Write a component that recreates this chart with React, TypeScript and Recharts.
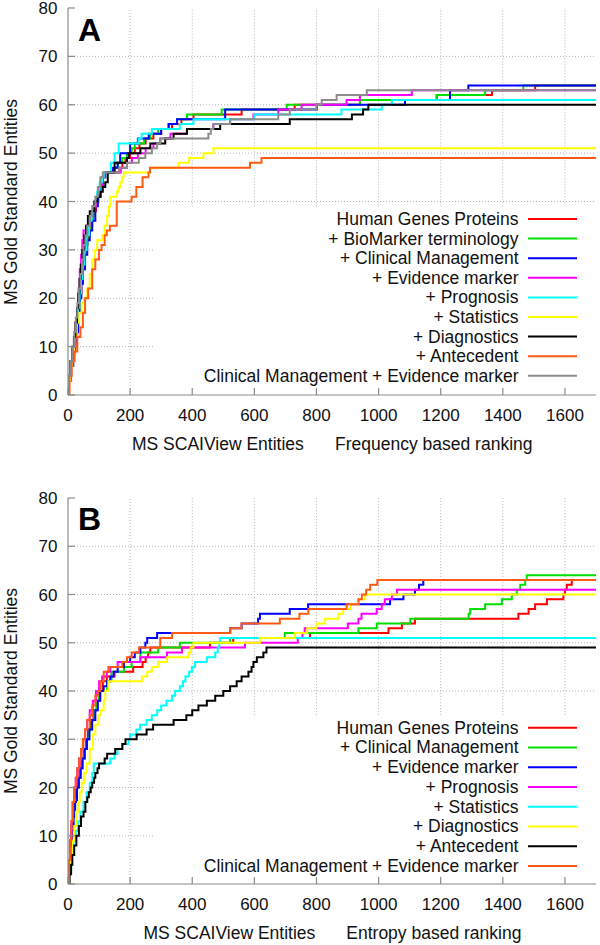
import React from 'react';
import { LineChart, Line, XAxis, YAxis, ReferenceLine } from 'recharts';

type P = [number, number];

const xTicks = [0, 200, 400, 600, 800, 1000, 1200, 1400, 1600];
const yTicks = [0, 10, 20, 30, 40, 50, 60, 70, 80];
const X_MAX = 1700;

// ---------- Panel A : Frequency based ranking ----------
const aHumanGenes: P[] = [[0,0],[3,3],[8,6],[14,8],[20,10],[25,12],[30,15],[35,18],[39,21],[43,24],[48,27],[54,30],[60,32],[66,34],[72,36],[80,38],[90,40],[98,42],[104,44],[110,45],[118,46],[165,47],[175,48],[185,49],[200,50],[215,51],[230,52],[250,53],[275,54],[300,55],[335,56],[365,57],[404,58],[559,59],[730,60],[940,61],[1187,62],[1365,63],[1504,64]];
const aBioMarker: P[] = [[0,0],[3,4],[9,7],[15,9],[21,11],[26,14],[31,17],[36,20],[40,23],[45,26],[51,29],[57,31],[63,33],[70,35],[78,37],[86,39],[94,41],[102,43],[110,45],[118,46],[150,47],[160,48],[175,49],[190,50],[205,51],[215,52],[245,53],[265,54],[290,55],[324,56],[351,57],[383,58],[495,59],[704,60],[940,61],[1187,62],[1343,63],[1466,64]];
const aClinical: P[] = [[0,0],[3,3],[10,6],[17,9],[23,11],[28,13],[33,17],[38,20],[43,23],[48,26],[55,29],[62,32],[70,34],[78,36],[88,39],[96,41],[104,43],[112,45],[120,46],[145,47],[160,48],[168,50],[200,52],[225,53],[260,54],[300,55],[324,56],[351,57],[506,59],[801,60],[1085,61],[1230,63],[1289,64]];
const aEvidence: P[] = [[0,0],[3,4],[8,7],[14,10],[20,12],[25,15],[30,18],[34,22],[38,26],[42,29],[46,32],[50,34],[60,35],[70,37],[80,39],[90,41],[100,43],[110,45],[118,46],[170,47],[190,48],[206,49],[225,50],[250,51],[275,52],[297,53],[330,54],[383,55],[468,56],[522,57],[597,58],[677,59],[752,60],[897,61],[940,62],[1107,63]];
const aPrognosis: P[] = [[0,0],[3,4],[9,7],[15,10],[21,12],[27,15],[32,18],[37,21],[42,24],[47,27],[53,30],[60,33],[68,36],[76,38],[85,40],[94,42],[102,44],[110,45],[115,46],[138,48],[150,50],[163,52],[227,53],[237,54],[270,55],[360,56],[404,57],[600,58],[880,59],[1010,60],[1043,61]];
const aStatistics: P[] = [[0,0],[3,3],[8,6],[14,9],[20,12],[28,15],[36,17],[44,19],[51,20],[62,22],[70,25],[78,28],[86,30],[94,32],[110,33],[118,35],[126,37],[132,39],[136,41],[157,42],[163,43],[168,44],[174,45],[179,46],[265,47],[356,48],[390,49],[436,50],[468,51]];
const aDiagnostics: P[] = [[0,0],[3,4],[8,7],[14,10],[19,12],[24,15],[29,18],[33,21],[37,24],[41,27],[46,30],[52,33],[58,35],[64,37],[70,38],[85,40],[95,41],[105,42],[112,43],[120,44],[128,46],[150,48],[190,49],[196,50],[233,51],[265,52],[313,53],[340,54],[383,55],[490,56],[714,57],[914,58],[950,59],[967,60]];
const aAntecedent: P[] = [[0,0],[5,4],[12,7],[21,9],[30,12],[40,14],[48,17],[55,20],[65,22],[78,26],[88,28],[100,30],[108,31],[118,33],[125,34],[135,35],[157,40],[205,41],[220,43],[240,45],[259,46],[264,47],[586,48],[623,49]];
const aCombined: P[] = [[0,0],[3,4],[8,7],[14,10],[20,13],[25,16],[30,19],[35,22],[40,25],[45,28],[50,31],[56,33],[62,35],[70,37],[78,39],[88,41],[96,43],[104,45],[112,46],[165,47],[190,48],[228,49],[249,50],[270,51],[287,52],[297,53],[452,54],[460,55],[468,56],[522,57],[677,58],[714,59],[800,60],[817,61],[865,62],[962,63]];

const namesA = ['Human Genes Proteins', '+ BioMarker terminology', '+ Clinical Management', '+ Evidence marker', '+ Prognosis', '+ Statistics', '+ Diagnostics', '+ Antecedent', 'Clinical Management + Evidence marker'];
const colorsA = ['#ff0000', '#00e000', '#0000ff', '#ff00ff', '#00ffff', '#ffff00', '#000000', '#ff5a14', '#8c8c8c'];
const seriesA = [aHumanGenes, aBioMarker, aClinical, aEvidence, aPrognosis, aStatistics, aDiagnostics, aAntecedent, aCombined];

// ---------- Panel B : Entropy based ranking ----------
const bHumanGenes: P[] = [[0,0],[3,5],[7,9],[11,12],[16,15],[21,18],[26,20],[31,22],[37,24],[43,26],[50,28],[57,30],[64,32],[72,34],[82,36],[92,38],[100,40],[112,42],[125,43],[150,44],[210,45],[240,46],[250,47],[258,48],[265,49],[457,50],[532,51],[779,52],[1032,53],[1075,54],[1117,55],[1450,56],[1483,57],[1504,58],[1542,59],[1595,60],[1600,61],[1606,62],[1622,63]];
const bClinical: P[] = [[0,0],[3,4],[7,8],[12,11],[17,14],[22,17],[28,20],[34,22],[40,24],[46,26],[53,28],[60,30],[68,32],[76,34],[85,36],[92,38],[99,40],[126,42],[140,44],[180,45],[205,46],[233,48],[290,49],[360,50],[522,51],[698,52],[935,53],[994,54],[1102,55],[1290,56],[1295,57],[1343,58],[1397,59],[1429,60],[1445,61],[1456,62],[1472,63],[1477,64]];
const bEvidence: P[] = [[0,0],[3,4],[8,8],[13,11],[18,14],[23,17],[29,20],[35,22],[41,24],[47,26],[54,28],[61,30],[69,32],[78,34],[88,36],[96,38],[104,40],[115,41],[126,42],[136,43],[147,44],[160,45],[180,46],[200,47],[215,48],[233,49],[249,50],[255,51],[287,52],[522,53],[559,54],[612,55],[618,56],[714,57],[773,58],[1037,59],[1080,60],[1117,61],[1130,62],[1144,63]];
const bPrognosis: P[] = [[0,0],[3,5],[7,9],[11,13],[15,17],[20,20],[25,22],[30,24],[36,26],[42,28],[48,30],[55,32],[62,34],[70,36],[80,38],[90,40],[100,42],[110,43],[125,44],[136,45],[160,46],[233,47],[319,48],[367,49],[570,50],[740,51],[755,52],[762,53],[901,54],[935,55],[945,56],[994,57],[1010,58],[1020,59],[1043,60],[1059,61]];
const bStatistics: P[] = [[0,0],[4,3],[10,6],[18,9],[25,11],[33,13],[40,15],[50,17],[60,19],[70,21],[78,23],[83,25],[136,26],[150,27],[160,28],[175,29],[195,30],[200,31],[220,32],[232,33],[253,34],[270,35],[287,36],[300,37],[317,38],[335,39],[345,40],[360,41],[370,42],[378,43],[390,44],[399,45],[409,46],[447,47],[474,48],[482,49],[487,50],[490,51]];
const bDiagnostics: P[] = [[0,0],[4,3],[9,6],[15,9],[20,12],[26,15],[32,17],[38,19],[44,21],[52,23],[60,25],[70,28],[80,31],[88,33],[97,35],[105,36],[115,38],[120,40],[130,42],[238,43],[255,44],[270,45],[290,46],[319,47],[388,48],[395,49],[404,50],[618,51],[730,52],[770,53],[800,54],[828,55],[870,56],[886,57],[908,58],[935,59],[957,60]];
const bAntecedent: P[] = [[0,0],[5,2],[10,4],[14,6],[20,8],[27,10],[35,12],[42,14],[50,15],[56,17],[62,18],[67,19],[73,20],[78,21],[84,22],[88,23],[95,24],[100,25],[118,26],[126,27],[152,28],[175,29],[185,30],[221,31],[253,32],[274,33],[340,34],[381,35],[400,36],[420,37],[447,38],[474,39],[500,40],[522,41],[543,42],[559,43],[581,44],[591,45],[597,46],[608,47],[629,48],[639,49]];
const bCombined: P[] = [[0,0],[3,5],[7,9],[11,13],[15,17],[20,20],[25,22],[30,24],[36,26],[42,28],[48,30],[55,32],[62,34],[70,35],[78,37],[88,39],[96,40],[104,42],[115,44],[130,45],[175,46],[190,47],[205,48],[228,49],[297,51],[335,52],[522,53],[559,54],[682,55],[745,56],[774,57],[897,58],[935,59],[946,60],[960,61],[973,62],[996,63]];

const namesB = ['Human Genes Proteins', '+ Clinical Management', '+ Evidence marker', '+ Prognosis', '+ Statistics', '+ Diagnostics', '+ Antecedent', 'Clinical Management + Evidence marker'];
const colorsB = ['#ff0000', '#00e000', '#0000ff', '#ff00ff', '#00ffff', '#ffff00', '#000000', '#ff5a14'];
const seriesB = [bHumanGenes, bClinical, bEvidence, bPrognosis, bStatistics, bDiagnostics, bAntecedent, bCombined];

const FONT = "'Liberation Sans', Arial, Helvetica, sans-serif";
const FRAME = '#8a8a8a';
const GRID = '#b4b4b4';
const TICK = 7;

const toData = (arr: P[]) => {
  const pts = arr.map(([r, v]) => ({ r, v }));
  pts.push({ r: X_MAX, v: arr[arr.length - 1][1] });
  return pts;
};

const BottomTick = (p: any) => (
  <g>
    <line x1={p.x} x2={p.x} y1={p.y} y2={p.y - TICK} stroke={FRAME} strokeWidth={1.2} />
    <text x={p.x} y={p.y + 26} textAnchor="middle" fontSize={17} fontFamily={FONT} fill="#111">{p.payload.value}</text>
  </g>
);
const TopTick = (p: any) => (
  <line x1={p.x} x2={p.x} y1={p.y} y2={p.y + TICK} stroke={FRAME} strokeWidth={1.2} />
);
const LeftTick = (p: any) => (
  <g>
    <line x1={p.x} x2={p.x + TICK} y1={p.y} y2={p.y} stroke={FRAME} strokeWidth={1.2} />
    <text x={p.x - 10.5} y={p.y + 6} textAnchor="end" fontSize={17} fontFamily={FONT} fill="#111">{p.payload.value}</text>
  </g>
);
const RightTick = (p: any) => (
  <line x1={p.x} x2={p.x - TICK} y1={p.y} y2={p.y} stroke={FRAME} strokeWidth={1.2} />
);

function Panel(props: { series: P[][]; colors: string[]; height: number; axisHeight: number; cutY: number; cutX: number }) {
  const { series, colors, height, axisHeight, cutY, cutX } = props;
  const hLines = [10, 20, 30, 40, 50, 60, 70];
  const vLines = [200, 400, 600, 800, 1000, 1200, 1400, 1600];
  return (
    <LineChart width={600} height={height} margin={{ top: 8, right: 4, left: 0, bottom: 0 }}>
      <XAxis xAxisId="b" type="number" dataKey="r" domain={[0, X_MAX]} ticks={xTicks} interval={0}
        tickSize={0} tickMargin={0} tickLine={false} axisLine={{ stroke: FRAME, strokeWidth: 1.2 }}
        height={axisHeight} allowDataOverflow tick={BottomTick} />
      <XAxis xAxisId="t" orientation="top" type="number" dataKey="r" domain={[0, X_MAX]} ticks={xTicks} interval={0}
        tickSize={0} tickMargin={0} tickLine={false} axisLine={{ stroke: FRAME, strokeWidth: 1.2 }}
        height={0} allowDataOverflow tick={TopTick} />
      <YAxis yAxisId="l" type="number" domain={[0, 80]} ticks={yTicks} interval={0} width={68}
        tickSize={0} tickMargin={0} tickLine={false} axisLine={{ stroke: FRAME, strokeWidth: 1.2 }}
        allowDataOverflow tick={LeftTick} />
      <YAxis yAxisId="r" orientation="right" type="number" domain={[0, 80]} ticks={yTicks} interval={0} width={0}
        tickSize={0} tickMargin={0} tickLine={false} axisLine={{ stroke: FRAME, strokeWidth: 1.2 }}
        allowDataOverflow tick={RightTick} />
      {hLines.map((y) => (
        <ReferenceLine key={'h' + y} xAxisId="b" yAxisId="l" ifOverflow="visible"
          segment={[{ x: 0, y }, { x: y < cutY ? cutX : X_MAX, y }]}
          stroke={GRID} strokeDasharray="1 2" strokeWidth={1} />
      ))}
      {vLines.map((x) => (
        <ReferenceLine key={'v' + x} xAxisId="b" yAxisId="l" ifOverflow="visible"
          segment={[{ x, y: x > cutX ? cutY : 0 }, { x, y: 80 }]}
          stroke={GRID} strokeDasharray="1 2" strokeWidth={1} />
      ))}
      {series.map((s, i) => (
        <Line key={i} xAxisId="b" yAxisId="l" data={toData(s)} dataKey="v" type="stepAfter"
          stroke={colors[i]} strokeWidth={2} dot={false} activeDot={false} isAnimationActive={false} />
      ))}
    </LineChart>
  );
}

function LegendRows(props: { names: string[]; colors: string[]; top: number; step: number }) {
  const { names, colors, top, step } = props;
  return (
    <g>
      {names.map((n, i) => {
        const cy = top + i * step;
        return (
          <g key={i}>
            <text x={518.5} y={cy + 6} textAnchor="end" fontSize={17.5} fontFamily={FONT} fill="#111">{n}</text>
            <line x1={528} x2={577} y1={cy} y2={cy} stroke={colors[i]} strokeWidth={2} />
          </g>
        );
      })}
    </g>
  );
}

export default function App() {
  return (
    <div style={{ position: 'absolute', left: 0, top: 0, width: 600, height: 945, background: '#fff', overflow: 'hidden' }}>
      <div style={{ position: 'absolute', left: 0, top: 0 }}>
        <Panel series={seriesA} colors={colorsA} height={465} axisHeight={70} cutY={39} cutX={280} />
      </div>
      <div style={{ position: 'absolute', left: 0, top: 490 }}>
        <Panel series={seriesB} colors={colorsB} height={455} axisHeight={61} cutY={35} cutX={280} />
      </div>
      <svg width={600} height={945} style={{ position: 'absolute', left: 0, top: 0, pointerEvents: 'none' }}>
        <text x={78} y={41} fontSize={32} fontWeight="bold" fontFamily={FONT} fill="#000">A</text>
        <text x={78} y={530} fontSize={32} fontWeight="bold" fontFamily={FONT} fill="#000">B</text>
        <text transform="translate(17,202) rotate(-90)" textAnchor="middle" fontSize={17.5} fontFamily={FONT} fill="#111">MS Gold Standard Entities</text>
        <text transform="translate(17,691) rotate(-90)" textAnchor="middle" fontSize={17.5} fontFamily={FONT} fill="#111">MS Gold Standard Entities</text>
        <text x={132} y={449.5} fontSize={17.5} fontFamily={FONT} fill="#111">MS SCAIView Entities</text>
        <text x={335} y={449.5} fontSize={17.5} fontFamily={FONT} fill="#111">Frequency based ranking</text>
        <text x={143.5} y={939} fontSize={17.5} fontFamily={FONT} fill="#111">MS SCAIView Entities</text>
        <text x={346.3} y={939} fontSize={17.5} fontFamily={FONT} fill="#111">Entropy based ranking</text>
        <LegendRows names={namesA} colors={colorsA} top={219} step={19.6} />
        <LegendRows names={namesB} colors={colorsB} top={727.7} step={19.75} />
      </svg>
    </div>
  );
}
